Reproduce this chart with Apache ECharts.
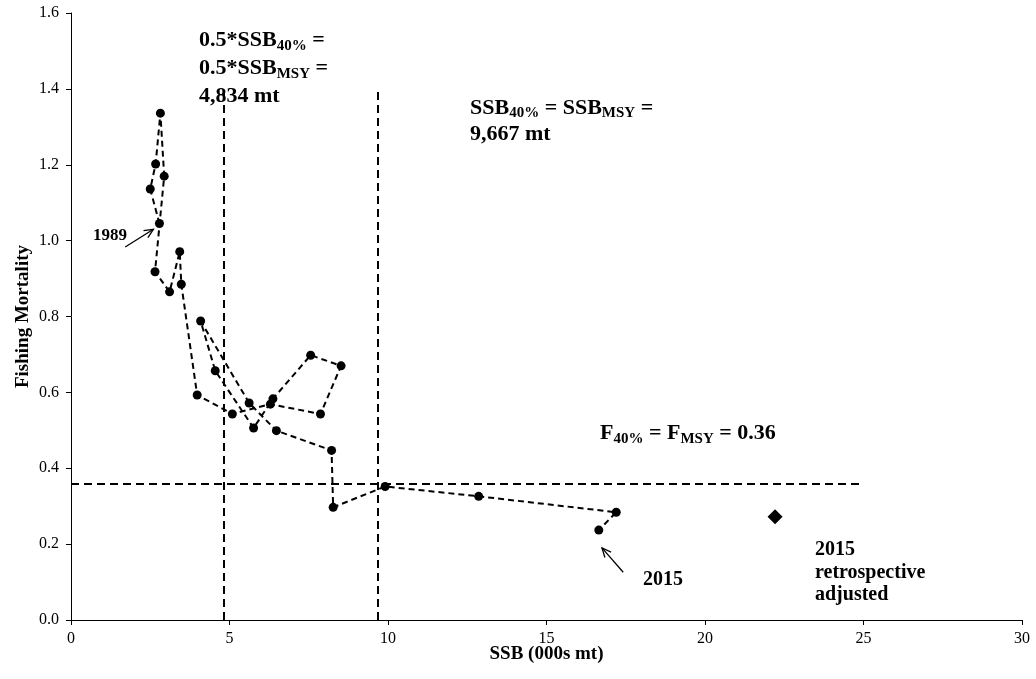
<!DOCTYPE html>
<html>
<head>
<meta charset="utf-8">
<script src="https://cdn.jsdelivr.net/npm/echarts@6/dist/echarts.min.js"></script>
<style>
  html, body { margin: 0; padding: 0; background: #fff; }
  #main { width: 1036px; height: 679px; }
</style>
</head>
<body>
<div id="main"></div>
<script>
// yearly trajectory, 1989 -> 2015
var years = [1989,1990,1991,1992,1993,1994,1995,1996,1997,1998,1999,2000,2001,2002,
             2003,2004,2005,2006,2007,2008,2009,2010,2011,2012,2013,2014,2015];
var ssb = [2.79,2.50,2.67,2.82,2.94,2.65,3.11,3.43,3.48,3.98,5.09,6.29,7.87,8.52,
           7.56,6.37,5.76,4.55,4.09,5.62,6.48,8.22,8.27,9.91,12.86,17.20,16.65];
var fm = [1.045,1.136,1.202,1.336,1.170,0.918,0.865,0.971,0.885,0.593,0.543,0.569,0.543,0.670,
          0.698,0.583,0.506,0.657,0.788,0.572,0.499,0.447,0.297,0.352,0.326,0.284,0.237];
// 2015 retrospective adjusted
var retroPoint = [22.21, 0.272];
// reference points
var halfSsbMsy = 4.834;
var ssbMsy = 9.667;
var fMsy = 0.36;
var refTop = 1.4;
var fLineEnd = 25;
// arrow annotations [tail, head] in data units
var arrow1989 = [[1.71, 0.983], [2.60, 1.030]];
var arrow2015 = [[17.42, 0.126], [16.75, 0.190]];

var serif = '"Liberation Serif", "Times New Roman", serif';

var chart = echarts.init(document.getElementById('main'));

var points = [];
for (var i = 0; i < ssb.length; i++) {
    points.push([ssb[i], fm[i], years[i]]);
}

var option = {
    animation: false,
    backgroundColor: '#fff',
    grid: { left: 71, right: 14, top: 13, bottom: 59 },
    xAxis: {
        type: 'value',
        min: 0, max: 30, interval: 5,
        name: 'SSB (000s mt)',
        nameLocation: 'middle',
        nameGap: 25,
        nameMoveOverlap: false,
        nameTextStyle: { fontFamily: serif, fontWeight: 'bold', fontSize: 19, color: '#000' },
        axisLine: { lineStyle: { color: '#000', width: 1 } },
        axisTick: { show: true, length: 5, lineStyle: { color: '#000' } },
        axisLabel: { fontFamily: serif, fontSize: 16, color: '#000', margin: 11 },
        splitLine: { show: false }
    },
    yAxis: {
        type: 'value',
        min: 0, max: 1.6, interval: 0.2,
        name: 'Fishing Mortality',
        nameLocation: 'middle',
        nameGap: 38,
        nameMoveOverlap: false,
        nameTextStyle: { fontFamily: serif, fontWeight: 'bold', fontSize: 19, color: '#000' },
        axisLine: { show: true, lineStyle: { color: '#000', width: 1 } },
        axisTick: { show: true, length: 5, lineStyle: { color: '#000' } },
        axisLabel: {
            fontFamily: serif, fontSize: 16, color: '#000', margin: 12,
            formatter: function (v) { return v.toFixed(1); }
        },
        splitLine: { show: false }
    },
    series: [
        {
            name: 'refs',
            type: 'line',
            data: [],
            silent: true,
            markLine: {
                silent: true,
                symbol: 'none',
                label: { show: false },
                lineStyle: { color: '#000', width: 2, type: [8, 5] },
                data: [
                    [{ coord: [halfSsbMsy, 0] }, { coord: [halfSsbMsy, refTop] }],
                    [{ coord: [ssbMsy, 0] }, { coord: [ssbMsy, refTop] }],
                    [{ coord: [0, fMsy] }, { coord: [fLineEnd, fMsy] }]
                ]
            }
        },
        {
            name: 'Trajectory',
            type: 'line',
            data: points,
            symbol: 'circle',
            symbolSize: 9,
            itemStyle: { color: '#000' },
            lineStyle: { color: '#000', width: 2, type: [6, 4] },
            z: 5
        },
        {
            name: '2015 retrospective adjusted',
            type: 'scatter',
            data: [retroPoint],
            symbol: 'diamond',
            symbolSize: 15,
            itemStyle: { color: '#000', opacity: 1 },
            z: 5
        }
    ]
};
chart.setOption(option);

function arrow(pair) {
    var p0 = chart.convertToPixel({ gridIndex: 0 }, pair[0]);
    var p1 = chart.convertToPixel({ gridIndex: 0 }, pair[1]);
    var ang = Math.atan2(p1[1] - p0[1], p1[0] - p0[0]);
    var L = 10, a = 0.42;
    var w1 = [p1[0] - L * Math.cos(ang - a), p1[1] - L * Math.sin(ang - a)];
    var w2 = [p1[0] - L * Math.cos(ang + a), p1[1] - L * Math.sin(ang + a)];
    return [
        { type: 'line', shape: { x1: p0[0], y1: p0[1], x2: p1[0], y2: p1[1] },
          style: { stroke: '#000', lineWidth: 1.3 }, z: 10 },
        { type: 'polyline', shape: { points: [w1, p1, w2] },
          style: { stroke: '#000', lineWidth: 1.3, fill: null }, z: 10 }
    ];
}

function rich(lh) {
    return {
        b: { fontFamily: serif, fontWeight: 'bold', fontSize: 22, lineHeight: lh, fill: '#000' },
        s: { fontFamily: serif, fontWeight: 'bold', fontSize: 15, lineHeight: 12,
             verticalAlign: 'bottom', fill: '#000' }
    };
}

var graphics = [
    {
        type: 'text', left: 199, top: 29, z: 10,
        style: {
            text: '{b|0.5*SSB}{s|40%}{b| =}\n{b|0.5*SSB}{s|MSY}{b| =}\n{b|4,834 mt}',
            rich: rich(28)
        }
    },
    {
        type: 'text', left: 470, top: 97, z: 10,
        style: {
            text: '{b|SSB}{s|40%}{b| = SSB}{s|MSY}{b| =}\n{b|9,667 mt}',
            rich: rich(26)
        }
    },
    {
        type: 'text', left: 600, top: 422, z: 10,
        style: {
            text: '{b|F}{s|40%}{b| = F}{s|MSY}{b| = 0.36}',
            rich: rich(28)
        }
    },
    {
        type: 'text', left: 93, top: 227, z: 10,
        style: { text: '1989', font: 'bold 17px ' + serif, fill: '#000' }
    },
    {
        type: 'text', left: 643, top: 570, z: 10,
        style: { text: '2015', font: 'bold 20px ' + serif, fill: '#000' }
    },
    {
        type: 'text', left: 815, top: 539, z: 10,
        style: { text: '2015\nretrospective\nadjusted', font: 'bold 20px ' + serif,
                 lineHeight: 22.5, fill: '#000' }
    }
];
graphics = graphics.concat(arrow(arrow1989), arrow(arrow2015));

chart.setOption({ graphic: graphics });
</script>
</body>
</html>
